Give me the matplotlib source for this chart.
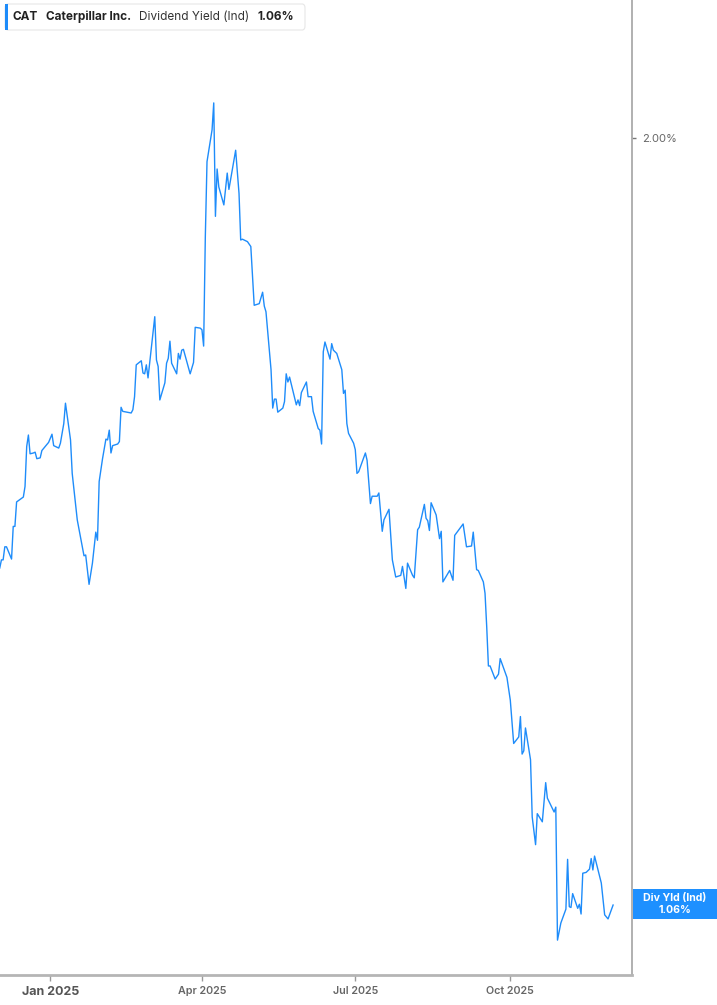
import matplotlib
matplotlib.use("Agg")
import matplotlib.pyplot as plt
import matplotlib.dates as mdates
from matplotlib.patches import FancyBboxPatch, Rectangle
import pandas as pd

plt.rcParams['font.family'] = ['Inter', 'DejaVu Sans']

dates = [
    "2024-12-02", "2024-12-03", "2024-12-04", "2024-12-05", "2024-12-06", "2024-12-09", "2024-12-10",
    "2024-12-11", "2024-12-12", "2024-12-16", "2024-12-17", "2024-12-18", "2024-12-19", "2024-12-20",
    "2024-12-22", "2024-12-23", "2024-12-24", "2024-12-26", "2024-12-27", "2024-12-31",
    "2025-01-02", "2025-01-03", "2025-01-06", "2025-01-07", "2025-01-09", "2025-01-10", "2025-01-13",
    "2025-01-14", "2025-01-17", "2025-01-21", "2025-01-22", "2025-01-24", "2025-01-26", "2025-01-28",
    "2025-01-29", "2025-01-30", "2025-02-01", "2025-02-03", "2025-02-04", "2025-02-05", "2025-02-06",
    "2025-02-07", "2025-02-10", "2025-02-11", "2025-02-12", "2025-02-13", "2025-02-18", "2025-02-19",
    "2025-02-20", "2025-02-21", "2025-02-24", "2025-02-25", "2025-02-26", "2025-02-27", "2025-02-28",
    "2025-03-02", "2025-03-04", "2025-03-05", "2025-03-06", "2025-03-07", "2025-03-10", "2025-03-11",
    "2025-03-12", "2025-03-13", "2025-03-14", "2025-03-17", "2025-03-18", "2025-03-19", "2025-03-20",
    "2025-03-21", "2025-03-25", "2025-03-27", "2025-03-28", "2025-03-31", "2025-04-01", "2025-04-02",
    "2025-04-03", "2025-04-04", "2025-04-07", "2025-04-08", "2025-04-09", "2025-04-10", "2025-04-11",
    "2025-04-14", "2025-04-16", "2025-04-17", "2025-04-21", "2025-04-23", "2025-04-24", "2025-04-25",
    "2025-04-28", "2025-04-30", "2025-05-02", "2025-05-05", "2025-05-07", "2025-05-08", "2025-05-09",
    "2025-05-12", "2025-05-13", "2025-05-14", "2025-05-15", "2025-05-16", "2025-05-19", "2025-05-20",
    "2025-05-21", "2025-05-22", "2025-05-23", "2025-05-27", "2025-05-28", "2025-05-29", "2025-05-30",
    "2025-06-02", "2025-06-03", "2025-06-05", "2025-06-06", "2025-06-09", "2025-06-10", "2025-06-11",
    "2025-06-12", "2025-06-13", "2025-06-16", "2025-06-17", "2025-06-18", "2025-06-20", "2025-06-23",
    "2025-06-24", "2025-06-25", "2025-06-26", "2025-06-27", "2025-06-30", "2025-07-01", "2025-07-02",
    "2025-07-03", "2025-07-07", "2025-07-08", "2025-07-10", "2025-07-11", "2025-07-14", "2025-07-15",
    "2025-07-17", "2025-07-18", "2025-07-21", "2025-07-23", "2025-07-25", "2025-07-28", "2025-07-29",
    "2025-07-31", "2025-08-01", "2025-08-04", "2025-08-05", "2025-08-07", "2025-08-08", "2025-08-11",
    "2025-08-12", "2025-08-13", "2025-08-14", "2025-08-15", "2025-08-18", "2025-08-20", "2025-08-21",
    "2025-08-22", "2025-08-26", "2025-08-28", "2025-08-29", "2025-09-03", "2025-09-05", "2025-09-08",
    "2025-09-09", "2025-09-11", "2025-09-12", "2025-09-15", "2025-09-16", "2025-09-17", "2025-09-18",
    "2025-09-19", "2025-09-22", "2025-09-24", "2025-09-25", "2025-09-29", "2025-10-01", "2025-10-03",
    "2025-10-06", "2025-10-07", "2025-10-08", "2025-10-09", "2025-10-10", "2025-10-13", "2025-10-14",
    "2025-10-16", "2025-10-17", "2025-10-20", "2025-10-22", "2025-10-23", "2025-10-27", "2025-10-28",
    "2025-10-29", "2025-10-31", "2025-11-03", "2025-11-04", "2025-11-05", "2025-11-06", "2025-11-07",
    "2025-11-10", "2025-11-11", "2025-11-12", "2025-11-13", "2025-11-15", "2025-11-17", "2025-11-18",
    "2025-11-19", "2025-11-20", "2025-11-24", "2025-11-26", "2025-11-28", "2025-12-01",
]

div_yield = [
    1.473, 1.483, 1.483, 1.499, 1.499, 1.484, 1.524,
    1.524, 1.554, 1.560, 1.573, 1.622, 1.636, 1.613,
    1.614, 1.615, 1.607, 1.608, 1.617, 1.627,
    1.637, 1.623, 1.620, 1.626, 1.650, 1.675, 1.630,
    1.589, 1.532, 1.488, 1.489, 1.453, 1.479, 1.517,
    1.507, 1.579, 1.607, 1.631, 1.630, 1.642, 1.614,
    1.623, 1.625, 1.628, 1.670, 1.665, 1.663, 1.667,
    1.683, 1.722, 1.727, 1.712, 1.711, 1.722, 1.706,
    1.744, 1.781, 1.728, 1.720, 1.679, 1.700, 1.724,
    1.730, 1.751, 1.724, 1.711, 1.736, 1.729, 1.740,
    1.741, 1.711, 1.725, 1.768, 1.767, 1.765, 1.745,
    1.879, 1.971, 2.010, 2.043, 1.904, 1.962, 1.940,
    1.918, 1.957, 1.937, 1.985, 1.932, 1.875, 1.876,
    1.873, 1.867, 1.795, 1.797, 1.811, 1.794, 1.787,
    1.716, 1.669, 1.680, 1.680, 1.664, 1.669, 1.677,
    1.711, 1.701, 1.707, 1.673, 1.679, 1.672, 1.688,
    1.701, 1.683, 1.683, 1.665, 1.644, 1.642, 1.625,
    1.738, 1.750, 1.729, 1.748, 1.740, 1.736, 1.716,
    1.687, 1.691, 1.650, 1.638, 1.626, 1.618, 1.589,
    1.591, 1.614, 1.605, 1.552, 1.561, 1.561, 1.565,
    1.518, 1.532, 1.545, 1.483, 1.462, 1.464, 1.475,
    1.448, 1.479, 1.464, 1.461, 1.520, 1.523, 1.551,
    1.534, 1.531, 1.519, 1.553, 1.538, 1.509, 1.518,
    1.456, 1.470, 1.458, 1.513, 1.527, 1.499, 1.500,
    1.517, 1.471, 1.470, 1.456, 1.442, 1.401, 1.353,
    1.353, 1.337, 1.343, 1.362, 1.339, 1.311, 1.258,
    1.266, 1.291, 1.245, 1.249, 1.277, 1.238, 1.168,
    1.134, 1.172, 1.162, 1.210, 1.191, 1.174, 1.180,
    1.017, 1.038, 1.055, 1.116, 1.058, 1.057, 1.074,
    1.056, 1.061, 1.049, 1.099, 1.100, 1.104, 1.117,
    1.103, 1.120, 1.087, 1.048, 1.043, 1.060,
]

ticker = "CAT"
company = "Caterpillar Inc."
metric = "Dividend Yield (Ind)"
last_label = "1.06%"
box_label = "Div Yld (Ind)"
y_ticks = [2.00]
x_tick_dates = ["2025-01-01", "2025-04-01", "2025-07-01", "2025-10-01"]
x_tick_labels = ["Jan 2025", "Apr 2025", "Jul 2025", "Oct 2025"]

line_color = "#1e8cfa"
W, H = 717, 1005
fig = plt.figure(figsize=(W / 100, H / 100), dpi=100)
ax = fig.add_axes([0, 1 - 975 / H, 632 / W, 975 / H])

x = pd.to_datetime(dates)
ax.plot(x, div_yield, color=line_color, lw=1.0)

jan1 = mdates.date2num(pd.Timestamp("2025-01-01"))
px_per_day = 1.685
ax.set_xlim(jan1 - 50.3 / px_per_day, jan1 + (632 - 50.3) / px_per_day)
ax.set_ylim(2 - 837 / 816, 2 + 138 / 816)

for s in ["top", "left"]:
    ax.spines[s].set_visible(False)
ax.spines["right"].set_color("#aaaaaa")
ax.spines["right"].set_linewidth(1.3)
ax.spines["bottom"].set_color("#b5b5b5")
ax.spines["bottom"].set_linewidth(2.0)

ax.yaxis.tick_right()
ax.set_yticks(y_ticks)
ax.set_yticklabels([f"{v:.2f}%" for v in y_ticks])
ax.tick_params(axis="y", length=3, width=1, color="#777777", pad=4, labelsize=8, labelcolor="#666666")

ax.set_xticks(pd.to_datetime(x_tick_dates))
ax.set_xticklabels(x_tick_labels)
ax.tick_params(axis="x", length=4, width=1, color="#999999", pad=4, labelsize=7.7, labelcolor="#666666")
for lbl in ax.get_xticklabels():
    if lbl.get_text().startswith("Jan"):
        lbl.set_fontweight("bold")
        lbl.set_fontsize(9)
        lbl.set_color("#555555")
    else:
        lbl.set_fontweight("semibold")

# Legend box (top-left)
def fx(px):
    return px / W

def fy(py):
    return 1 - py / H

fig.patches.append(FancyBboxPatch((fx(5), fy(30)), fx(300), 26 / H,
                                  boxstyle="round,pad=0,rounding_size=0.004",
                                  transform=fig.transFigure, facecolor="white",
                                  edgecolor="#e6e6e6", lw=0.8, zorder=5))
fig.patches.append(Rectangle((fx(4.5), fy(30)), fx(3), 26 / H, transform=fig.transFigure,
                             facecolor=line_color, edgecolor="none", zorder=6))
ty = fy(17)
fig.text(fx(13), ty, ticker, fontsize=8.5, fontweight="bold", color="#222222", va="center", zorder=7)
fig.text(fx(46), ty, company, fontsize=8.5, fontweight="bold", color="#222222", va="center", zorder=7)
fig.text(fx(139), ty, metric, fontsize=8.5, color="#333333", va="center", zorder=7)
fig.text(fx(257), ty, last_label, fontsize=8.5, fontweight="bold", color="#222222", va="center", zorder=7)

# Last value box on right
fig.canvas.draw()
y_last_px = ax.transData.transform((ax.get_xlim()[0], div_yield[-1]))[1]
box_h = 30
fig.patches.append(Rectangle((fx(633), (y_last_px - box_h / 2 + 1) / H), (W - 633) / W, box_h / H,
                             transform=fig.transFigure, facecolor="#1e90ff", edgecolor="none", zorder=5))
fig.text(fx(675), (y_last_px + 7) / H, box_label, fontsize=7.6, fontweight="bold", color="white",
         ha="center", va="center", zorder=6)
fig.text(fx(675), (y_last_px - 5) / H, last_label, fontsize=7.6, fontweight="bold", color="white",
         ha="center", va="center", zorder=6)

fig.savefig("out.png", dpi=100)
